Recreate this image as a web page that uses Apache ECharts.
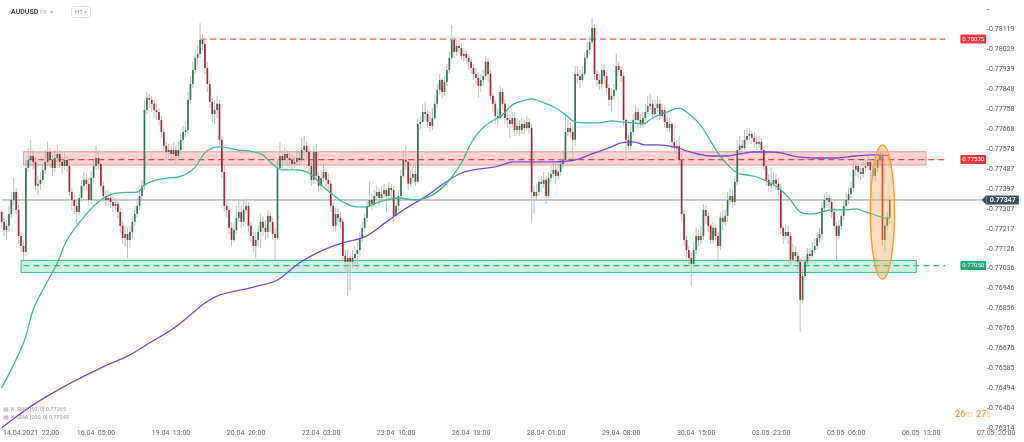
<!DOCTYPE html>
<html><head><meta charset="utf-8">
<script src="https://cdn.jsdelivr.net/npm/echarts@6/dist/echarts.min.js"></script>
<style>html,body{margin:0;padding:0;background:#fff;}#c{width:1024px;height:442px;}</style>
</head><body><div id="c"></div>
<script>
// AUDUSD H1 prices, in points (1e-5)
const firstOpen = 77293;
const closePts = [
77248,77211,77230,77284,77347,77383,77302,77184,77139,77112,
77492,77528,77546,77519,77411,77420,77438,77483,77519,77564,
77528,77492,77537,77555,77519,77501,77528,77501,77383,77347,
77320,77293,77356,77411,77438,77420,77347,77447,77501,77537,
77510,77411,77365,77347,77356,77338,77320,77329,77293,77230,
77175,77193,77166,77202,77248,77284,77320,77365,77411,77754,
77809,77800,77782,77754,77745,77709,77655,77592,77564,77573,
77555,77573,77546,77573,77619,77655,77664,77800,77872,77935,
77990,78008,78071,78053,77944,77872,77791,77736,77754,77782,
77619,77474,77320,77302,77221,77166,77211,77266,77293,77248,
77302,77320,77230,77184,77139,77166,77202,77248,77221,77202,
77275,77248,77193,77175,77492,77546,77528,77555,77537,77528,
77510,77519,77537,77528,77573,77592,77564,77501,77438,77564,
77456,77411,77447,77474,77438,77420,77320,77230,77284,77266,
77248,77094,77067,77085,77067,77085,77103,77121,77175,77221,
77266,77320,77347,77329,77365,77383,77356,77374,77392,77365,
77401,77392,77275,77320,77365,77456,77528,77519,77420,77447,
77465,77429,77691,77700,77745,77736,77700,77682,77718,77782,
77845,77890,77836,77881,77935,77990,78071,78017,78044,78035,
77999,78008,77990,77972,77944,77917,77899,77863,77890,77908,
77972,77917,77818,77782,77727,77718,77836,77782,77718,77709,
77691,77718,77664,77682,77664,77691,77673,77700,77673,77383,
77365,77383,77429,77420,77438,77365,77447,77465,77483,77456,
77474,77510,77528,77655,77673,77655,77619,77917,77908,77890,
77917,77990,78026,78062,78125,77917,77890,77872,77935,77908,
77854,77800,77818,77845,77953,77935,77908,77709,77619,77592,
77655,77709,77745,77709,77691,77718,77745,77772,77782,77736,
77763,77782,77727,77754,77700,77673,77691,77610,77582,77592,
77528,77284,77166,77121,77085,77058,77121,77184,77166,77184,
77302,77275,77230,77166,77221,77184,77139,77266,77248,77275,
77347,77365,77338,77429,77573,77592,77582,77619,77637,77646,
77628,77610,77601,77610,77573,77501,77438,77411,77420,77438,
77420,77392,77221,77184,77202,77184,77076,77112,77094,77067,
76895,77003,77067,77103,77094,77121,77139,77175,77193,77311,
77347,77356,77338,77293,77230,77184,77230,77275,77320,77347,
77374,77401,77483,77501,77474,77465,77492,77501,77519,77483,
77456,77492,77528,77546,77166,77230,77266,77347];
const highPts = [
77302,77266,77257,77320,77383,77447,77401,77325,77202,77166,
77528,77582,77619,77573,77537,77456,77474,77510,77573,77610,
77582,77546,77573,77592,77573,77546,77564,77546,77519,77401,
77374,77347,77374,77438,77474,77465,77447,77474,77528,77592,
77573,77528,77429,77392,77392,77383,77365,77356,77347,77311,
77248,77230,77221,77230,77275,77320,77356,77392,77438,77800,
77836,77827,77818,77800,77782,77763,77727,77673,77610,77601,
77592,77610,77592,77610,77646,77682,77700,77836,77908,77972,
78026,78044,78148,78098,78071,77972,77890,77809,77800,77818,
77800,77637,77501,77347,77320,77248,77248,77320,77347,77320,
77347,77356,77338,77248,77202,77202,77230,77284,77275,77257,
77302,77293,77266,77221,77528,77610,77573,77582,77573,77564,
77555,77546,77573,77564,77628,77637,77610,77592,77528,77592,
77601,77474,77483,77510,77492,77465,77438,77329,77311,77311,
77293,77266,77121,77121,77112,77121,77139,77157,77202,77248,
77284,77347,77429,77374,77392,77411,77401,77411,77420,77401,
77429,77420,77411,77347,77392,77483,77573,77592,77528,77483,
77501,77519,77718,77727,77782,77791,77754,77727,77763,77818,
77872,77917,77899,77908,77962,78017,78139,78089,78071,78071,
78053,78035,78026,78008,77990,77962,77944,77926,77917,77935,
77999,77990,77935,77827,77800,77763,77863,77854,77800,77745,
77736,77745,77745,77718,77709,77718,77709,77727,77718,77691,
77411,77420,77456,77456,77474,77456,77474,77501,77519,77510,
77501,77537,77573,77736,77709,77700,77673,77953,77953,77935,
77953,78017,78062,78089,78171,78143,77935,77917,77962,77962,
77926,77872,77854,77872,78008,77972,77953,77926,77718,77646,
77682,77736,77772,77763,77736,77745,77782,77818,77827,77800,
77800,77818,77800,77782,77772,77727,77718,77700,77628,77619,
77637,77564,77302,77184,77139,77112,77157,77221,77211,77230,
77329,77320,77293,77239,77248,77239,77202,77293,77302,77302,
77383,77401,77392,77456,77619,77637,77619,77664,77673,77673,
77664,77655,77637,77637,77628,77592,77510,77465,77492,77474,
77465,77447,77420,77230,77239,77230,77202,77148,77139,77112,
77085,77040,77094,77130,77130,77157,77175,77202,77221,77338,
77374,77383,77374,77356,77311,77248,77257,77302,77347,77383,
77401,77429,77528,77528,77519,77501,77519,77528,77546,77537,
77501,77528,77555,77582,77573,77266,77293,77365];
const lowPts = [
77221,77184,77166,77202,77266,77320,77284,77148,77112,77067,
77094,77474,77501,77483,77392,77374,77392,77420,77465,77501,
77492,77456,77474,77510,77492,77465,77483,77474,77365,77302,
77284,77239,77275,77338,77392,77383,77320,77329,77429,77483,
77483,77392,77338,77320,77320,77311,77293,77302,77266,77202,
77148,77139,77085,77130,77175,77230,77266,77302,77347,77392,
77736,77763,77745,77718,77709,77682,77628,77564,77528,77537,
77519,77537,77510,77528,77555,77601,77628,77646,77782,77854,
77917,77962,77990,78026,77917,77836,77763,77700,77691,77718,
77592,77447,77293,77266,77193,77139,77157,77193,77248,77221,
77230,77284,77202,77157,77112,77085,77139,77130,77184,77166,
77175,77202,77166,77067,77166,77483,77492,77510,77501,77492,
77483,77492,77501,77501,77519,77546,77528,77474,77411,77420,
77438,77383,77392,77429,77411,77392,77293,77202,77202,77230,
77221,77067,77031,76913,76940,77040,77058,77031,77094,77157,
77202,77248,77311,77302,77320,77347,77320,77347,77356,77293,
77347,77356,77248,77266,77302,77356,77447,77483,77392,77411,
77420,77411,77420,77664,77700,77709,77673,77655,77664,77709,
77763,77827,77809,77818,77863,77917,77981,77990,77999,78008,
77981,77972,77962,77935,77917,77890,77872,77809,77836,77863,
77890,77881,77800,77745,77691,77682,77709,77754,77691,77673,
77628,77673,77637,77646,77637,77646,77646,77664,77646,77248,
77284,77347,77365,77383,77401,77329,77356,77429,77447,77420,
77438,77456,77492,77519,77637,77628,77519,77592,77872,77854,
77881,77908,77981,78008,78053,77890,77863,77845,77854,77872,
77827,77772,77745,77800,77836,77908,77881,77682,77519,77573,
77573,77637,77691,77682,77673,77673,77709,77736,77754,77718,
77727,77745,77709,77718,77673,77655,77655,77573,77555,77555,
77510,77248,77139,77085,77049,76958,77040,77103,77139,77148,
77166,77239,77202,77148,77148,77166,77067,77121,77211,77230,
77248,77329,77311,77320,77411,77555,77555,77573,77601,77619,
77601,77582,77573,77582,77555,77483,77411,77383,77383,77411,
77392,77374,77193,77148,77166,77148,77049,77067,77067,77031,
76750,76877,76985,77049,77067,77085,77103,77121,77157,77166,
77293,77320,77311,77266,77211,77067,77166,77211,77257,77302,
77329,77356,77383,77456,77447,77438,77447,77474,77483,77383,
77438,77429,77474,77510,77139,77112,77211,77239];

// moving averages at sample candles
const sma50Idx = [0,9,13,17,23,27,34,41,48,56,59,64,69,73,77,80,84,87,90,94,98,102,106,108,111,114,116,122,126,129,133,137,141,147,151,155,159,164,171,178,184,190,194,198,202,207,211,215,219,223,229,233,237,241,247,252,256,261,265,269,275,280,283,288,292,296,300,304,308,312,318,321,325,331,335,339,343,349,353,357,361,365,367];
const sma50Pts = [76497,76700,76850,76940,77062,77166,77270,77347,77379,77383,77415,77438,77447,77451,77469,77497,77560,77582,77587,77582,77573,77569,77560,77551,77519,77492,77483,77483,77474,77451,77406,77370,77338,77316,77316,77334,77347,77356,77347,77370,77424,77515,77605,77664,77700,77732,77777,77795,77804,77791,77763,77732,77700,77696,77696,77705,77700,77696,77691,77718,77745,77763,77745,77696,77632,77560,77506,77469,77460,77451,77424,77401,77361,77288,77284,77293,77302,77302,77307,77293,77279,77266,77265];
const sma200Idx = [0,13,27,41,53,61,70,78,84,90,99,106,114,123,133,141,150,159,166,175,183,190,195,204,212,219,228,237,245,252,256,261,266,271,278,282,288,293,300,305,311,318,322,329,336,345,353,361,367];
const sma200Pts = [76316,76420,76510,76587,76646,76700,76759,76827,76881,76917,76940,76958,76985,77062,77121,77153,77180,77248,77302,77361,77424,77469,77483,77497,77519,77519,77519,77528,77560,77587,77605,77610,77596,77596,77587,77573,77555,77546,77546,77555,77564,77564,77560,77542,77537,77537,77546,77551,77548];

// axes
const categoryCount = 423;
const xTickStart = 8, xTickStep = 31;
const xTickLabels = ['14.04.2021  22:00','16.04  05:00','19.04  13:00','20.04  20:00','22.04  03:00','23.04  10:00','26.04  18:00','28.04  01:00','29.04  08:00','30.04  15:00','03.05  23:00','05.05  06:00','06.05  13:00','07.05  20:00'];
const yMin = 0.76314, yStep = 0.0009025, yMax = 0.7820925;
const yTickLabels = ['0.76314','0.76404','0.76494','0.76585','0.76675','0.76765','0.76856','0.76946','0.77036','0.77126','0.77217','0.77307','0.77397','0.77487','0.77578','0.77668','0.77758','0.77848','0.77939','0.78029','0.78119'];

// levels & zones
const levelTop = 0.78075, levelResist = 0.77530, levelSupport = 0.77050, lastPrice = 0.77347;
const resistZone = [0.77565, 0.77505];
const supportZone = [0.77073, 0.77019];
const highlightIdx = [359, 369];
const highlightPrice = [0.77596, 0.76990];
const countdown = ['26', '27'];

const P = v => v / 1e5;
const candles = closePts.map((c, i) => {
  const o = i === 0 ? firstOpen : closePts[i - 1];
  return [i, P(o), P(c), P(lowPts[i]), P(highPts[i])];
});
const cats = Array.from({length: categoryCount}, (_, i) => String(i));
const sma50 = sma50Idx.map((k, j) => [k, P(sma50Pts[j])]);
const sma200 = sma200Idx.map((k, j) => [k, P(sma200Pts[j])]);

const BULL = '#2f7650', BEAR = '#a3282d', WICK = '#b9b9b9';
function renderCandle(params, api) {
  const i = api.value(0), o = api.value(1), c = api.value(2), lo = api.value(3), hi = api.value(4);
  const pO = api.coord([i, o]), pC = api.coord([i, c]), pL = api.coord([i, lo]), pH = api.coord([i, hi]);
  const x = pO[0], w = 1.7;
  const top = Math.min(pO[1], pC[1]);
  const h = Math.max(0.8, Math.abs(pO[1] - pC[1]));
  return {type: 'group', children: [
    {type: 'line', shape: {x1: x, y1: pH[1], x2: x, y2: pL[1]}, style: {stroke: WICK, lineWidth: 0.9}},
    {type: 'rect', shape: {x: x - w / 2, y: top, width: w, height: h}, style: {fill: c >= o ? BULL : BEAR}}
  ]};
}

function levelSeries(name, color, price, fromIdx, toIdx, dashed, label, extra) {
  return Object.assign({
    type: 'line', name: name, z: 1, silent: true, showSymbol: false, symbol: 'none',
    data: [[fromIdx, price], [toIdx, price]],
    lineStyle: {color: color, type: dashed ? [6, 4] : 'solid', width: dashed ? 1.3 : 1},
    itemStyle: {color: color},
    endLabel: label
  }, extra || {});
}
const tagLabel = (bg, txt) => ({show: true, distance: 15, formatter: txt,
  backgroundColor: bg, color: '#fff', fontSize: 6, padding: [2, 2, 1, 2], borderRadius: 1});

const chart = echarts.init(document.getElementById('c'), null, {renderer: 'canvas'});
chart.setOption({
  animation: false,
  backgroundColor: '#ffffff',
  textStyle: {fontFamily: 'Roboto, sans-serif'},
  grid: {left: 0, right: 0, top: 9.4, bottom: 13.7, containLabel: false},
  xAxis: {
    type: 'category', data: cats, boundaryGap: true,
    axisLine: {show: false}, axisTick: {show: false}, splitLine: {show: false},
    axisLabel: {
      interval: idx => idx >= xTickStart && (idx - xTickStart) % xTickStep === 0,
      margin: 1, fontSize: 7, color: '#666',
      formatter: (v, idx) => {
        const k = Math.round((idx - xTickStart) / xTickStep);
        const t = xTickLabels[k] || '';
        return k === 0 ? '{first|' + t + '}' : t;
      },
      rich: {first: {fontSize: 7, color: '#666', padding: [0, 0, 0, 20]}}
    }
  },
  yAxis: {
    type: 'value', position: 'right', offset: -37, scale: true,
    min: yMin, max: yMax, interval: yStep,
    axisLine: {show: false}, splitLine: {show: false},
    axisTick: {show: true, length: 2.5, lineStyle: {color: '#a8a8a8'}},
    axisLabel: {margin: 2, fontSize: 7, color: '#555',
      formatter: v => yTickLabels[Math.round((v - yMin) / yStep)] || ''}
  },
  series: [
    {
      type: 'line', name: 'zones', data: [], z: 1, silent: true,
      markArea: {silent: true, data: [
        [{coord: [9, resistZone[0]], itemStyle: {color: 'rgba(241,96,96,0.28)', borderColor: 'rgba(238,90,90,0.6)', borderWidth: 1}}, {coord: [382, resistZone[1]]}],
        [{coord: [8, supportZone[0]], itemStyle: {color: 'rgba(48,190,134,0.25)', borderColor: 'rgba(40,185,125,0.9)', borderWidth: 1}}, {coord: [378, supportZone[1]]}]
      ]}
    },
    levelSeries('top', '#ef5656', levelTop, 82, 390, true, tagLabel('#e53a3f', levelTop.toFixed(5))),
    levelSeries('resist', '#f04444', levelResist, 11, 390, true, tagLabel('#e53a3f', levelResist.toFixed(5))),
    levelSeries('support', '#2fbd84', levelSupport, 9, 390, true, tagLabel('#22aa72', levelSupport.toFixed(5))),
    levelSeries('last', '#8e9398', lastPrice, 0, 405, false,
      {show: true, distance: 5, formatter: lastPrice.toFixed(5), backgroundColor: '#3b4c58', color: '#fff', fontSize: 7, fontWeight: 'bold', padding: [1, 3, 1, 3]},
      {markPoint: {silent: true, data: [
        {coord: [405, lastPrice], symbol: 'triangle', symbolSize: [10, 5], symbolRotate: 90, symbolOffset: [2.5, 0], itemStyle: {color: '#3b4c58'}, label: {show: false}}
      ]}}),
    {type: 'custom', name: 'AUDUSD', data: candles, renderItem: renderCandle, encode: {x: 0, y: [1, 2, 3, 4]}, z: 2},
    {type: 'line', name: 'SMA 200', data: sma200, smooth: 0.4, showSymbol: false, z: 3,
      lineStyle: {color: '#7447d9', width: 1.3}},
    {type: 'line', name: 'SMA 50', data: sma50, smooth: 0.4, showSymbol: false, z: 3,
      lineStyle: {color: '#31bd8b', width: 1.3}}
  ]
});

const e0 = chart.convertToPixel({gridIndex: 0}, [highlightIdx[0], highlightPrice[0]]);
const e1 = chart.convertToPixel({gridIndex: 0}, [highlightIdx[1], highlightPrice[1]]);
const legendLines = [
  'SMA [50, 0] ' + P(sma50Pts[sma50Pts.length - 1]).toFixed(5),
  'SMA [200, 0] ' + P(sma200Pts[sma200Pts.length - 1]).toFixed(5)
];
chart.setOption({
  graphic: [
    {type: 'ellipse', z: 10, silent: true,
      shape: {cx: (e0[0] + e1[0]) / 2, cy: (e0[1] + e1[1]) / 2, rx: Math.abs(e1[0] - e0[0]) / 2, ry: Math.abs(e1[1] - e0[1]) / 2},
      style: {fill: 'rgba(250,168,80,0.38)', stroke: '#f4a03a', lineWidth: 1.5}},
    {type: 'text', x: 11, y: 12, z: 20, style: {text: 'AUDUSD', fill: '#444', fontSize: 7, fontWeight: 'bold', fontFamily: 'Roboto, sans-serif', verticalAlign: 'middle'}},
    {type: 'text', x: 40, y: 12, z: 20, style: {text: 'FX', fill: '#b0b0b0', fontSize: 6, fontFamily: 'Roboto, sans-serif', verticalAlign: 'middle'}},
    {type: 'text', x: 50, y: 12, z: 20, style: {text: '▾', fill: '#bbb', fontSize: 6, verticalAlign: 'middle'}},
    {type: 'rect', z: 20, shape: {x: 71.5, y: 6.5, width: 19, height: 11, r: 2}, style: {fill: '#fff', stroke: '#e2e2e2', lineWidth: 1}},
    {type: 'text', x: 75, y: 12, z: 21, style: {text: 'H1', fill: '#888', fontSize: 6, fontFamily: 'Roboto, sans-serif', verticalAlign: 'middle'}},
    {type: 'text', x: 84, y: 12, z: 21, style: {text: '▾', fill: '#bbb', fontSize: 6, verticalAlign: 'middle'}},
    {type: 'text', x: 3, y: 410, z: 20, style: {text: '▤ ✕ ' + legendLines[0], fill: '#9a9a9a', fontSize: 5.5, fontFamily: 'Roboto, sans-serif', verticalAlign: 'middle'}},
    {type: 'text', x: 3, y: 417.5, z: 20, style: {text: '▤ ✕ ' + legendLines[1], fill: '#9a9a9a', fontSize: 5.5, fontFamily: 'Roboto, sans-serif', verticalAlign: 'middle'}},
    {type: 'text', x: 955, y: 415, z: 20, style: {
      text: '{a|' + countdown[0] + '}{b|m} {a|' + countdown[1] + '}{b|s}', verticalAlign: 'middle',
      rich: {a: {fill: '#f5a24b', fontSize: 9, fontWeight: 'bold', fontFamily: 'Roboto, sans-serif'}, b: {fill: '#f8c690', fontSize: 8.5, fontFamily: 'Roboto, sans-serif'}}}}
  ]
});
</script>
</body></html>
